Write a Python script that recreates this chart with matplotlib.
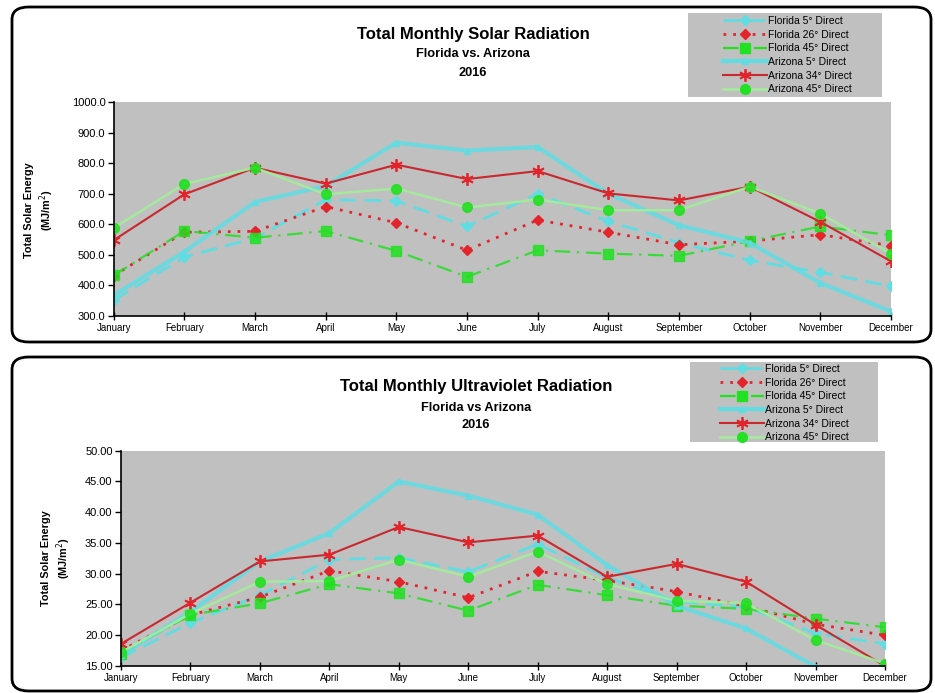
import numpy as np
import matplotlib
matplotlib.use("Agg")
import matplotlib.pyplot as plt
from matplotlib.patches import FancyBboxPatch, Rectangle

plt.rcParams["font.family"] = ["Liberation Sans", "DejaVu Sans"]

months = ["January", "February", "March", "April", "May", "June", "July",
          "August", "September", "October", "November", "December"]
labels = ["Florida 5° Direct", "Florida 26° Direct", "Florida 45° Direct",
          "Arizona 5° Direct", "Arizona 34° Direct", "Arizona 45° Direct"]

# total solar radiation (MJ/m2)
sol_fl5 = [352, 493, 555, 680, 677, 593, 700, 610, 540, 482, 443, 397]
sol_fl26 = [432, 574, 577, 658, 605, 515, 614, 574, 533, 545, 566, 530]
sol_fl45 = [433, 578, 556, 578, 513, 428, 515, 504, 497, 545, 593, 564]
sol_az5 = [368, 510, 673, 725, 867, 841, 853, 700, 597, 540, 408, 315]
sol_az34 = [548, 698, 785, 733, 795, 748, 774, 701, 678, 723, 608, 479]
sol_az45 = [588, 732, 785, 698, 717, 655, 681, 646, 646, 723, 635, 504]

# total ultraviolet radiation (MJ/m2)
uv_fl5 = [16.4, 22.0, 26.5, 32.3, 32.6, 30.3, 34.8, 29.4, 25.5, 24.6, 20.3, 18.6]
uv_fl26 = [17.5, 23.3, 26.2, 30.5, 28.7, 26.1, 30.4, 28.9, 27.1, 24.7, 21.8, 20.0]
uv_fl45 = [17.0, 23.3, 25.2, 28.3, 26.8, 24.0, 28.2, 26.5, 24.8, 24.3, 22.7, 21.3]
uv_az5 = [16.8, 23.8, 32.0, 36.6, 45.0, 42.7, 39.6, 31.4, 24.8, 21.1, 14.9, 13.0]
uv_az34 = [18.6, 25.3, 32.0, 33.1, 37.6, 35.1, 36.2, 29.5, 31.6, 28.7, 21.7, 15.0]
uv_az45 = [17.2, 23.5, 28.7, 28.8, 32.3, 29.5, 33.6, 28.3, 25.6, 25.2, 19.2, 15.4]

cyan = "#5fdde3"
red = "#e3242b"
dred = "#c8282e"
green = "#22e022"
lgreen = "#a2ee9a"
gray = "#c0c0c0"

styles = [
    dict(color=cyan, ls=(0, (6, 3)), lw=2.0, marker="D", ms=5, mfc=cyan, mec=cyan),
    dict(color=red, ls=(0, (1, 2.5)), lw=2.0, marker="D", ms=5, mfc=red, mec=red),
    dict(color=green, ls=(0, (7, 3, 1, 3)), lw=1.6, marker="s", ms=7, mfc=green, mec=green, alpha=0.85),
    dict(color=cyan, ls="-", lw=3.0, marker="^", ms=4, mfc=cyan, mec=cyan, alpha=0.85),
    dict(color=dred, ls="-", lw=1.5, marker=(6, 2, 0), ms=9, mfc=red, mec=red, mew=1.3),
    dict(color=lgreen, ls="-", lw=1.8, marker="o", ms=7, mfc=green, mec=green, alpha=0.9),
]

fig = plt.figure(figsize=(9.35, 6.93), dpi=100)
W, H = 935.0, 693.0

# rounded panel borders
for (x0, y0, x1, y1) in [(12, 7, 931, 342), (12, 357, 931, 691)]:
    box = FancyBboxPatch((x0 / W, 1 - y1 / H), (x1 - x0) / W, (y1 - y0) / H,
                         boxstyle="round,pad=0,rounding_size=0.018",
                         transform=fig.transFigure, fill=False, ec="black", lw=2.0)
    fig.add_artist(box)


def panel(rect, series, ylim, yticks, fmt, titles, title_y, legbox, leg_xy, ylab_xy):
    ax = fig.add_axes(rect)
    ax.set_facecolor(gray)
    x = np.arange(len(months))
    for vals, st, lab in zip(series, styles, labels):
        ax.plot(x, vals, label=lab, clip_on=True, **st)
    ax.set_xlim(0, 11)
    ax.set_ylim(*ylim)
    ax.set_xticks(x)
    ax.set_xticklabels(months, fontsize=7)
    ax.set_yticks(yticks)
    ax.set_yticklabels([fmt.format(v) for v in yticks], fontsize=8)
    ax.tick_params(axis="x", direction="inout", length=6, width=1, pad=2)
    ax.tick_params(axis="y", direction="out", length=4, width=1, pad=2)
    for s in ["top", "right"]:
        ax.spines[s].set_visible(False)
    for s in ["left", "bottom"]:
        ax.spines[s].set_linewidth(1.2)
    # titles
    cx = titles[0][0] / W
    fig.text(cx, 1 - title_y[0] / H, titles[0][1], ha="center", va="center",
             fontsize=12, fontweight="bold")
    fig.text(cx, 1 - title_y[1] / H, titles[1], ha="center", va="center",
             fontsize=9.2, fontweight="bold")
    fig.text(cx, 1 - title_y[2] / H, "2016", ha="center", va="center",
             fontsize=9.2, fontweight="bold")
    fig.text(ylab_xy[0] / W, 1 - ylab_xy[1] / H, "Total Solar Energy\n(MJ/m$^2$)",
             rotation=90, ha="center", va="center", fontsize=7.8, fontweight="bold",
             multialignment="center")
    # legend background
    bx0, by0, bx1, by1 = legbox
    fig.add_artist(Rectangle((bx0 / W, 1 - by1 / H), (bx1 - bx0) / W, (by1 - by0) / H,
                             transform=fig.transFigure, fc=gray, ec="none"))
    h, l = ax.get_legend_handles_labels()
    leg = fig.legend(h, l, loc="upper left",
                     bbox_to_anchor=(leg_xy[0] / W, 1 - leg_xy[1] / H),
                     fontsize=7.5, frameon=False, labelspacing=0.35,
                     handlelength=4.2, handletextpad=0.1, borderpad=0,
                     borderaxespad=0)
    for ln in leg.get_lines():
        ln.set_alpha(1)
    return ax


panel([113.7 / W, 1 - 316 / H, (891 - 113.7) / W, (316 - 102) / H],
      [sol_fl5, sol_fl26, sol_fl45, sol_az5, sol_az34, sol_az45],
      (300, 1000), np.arange(300, 1001, 100), "{:.1f}",
      [(473, "Total Monthly Solar Radiation"), "Florida vs. Arizona"],
      (34, 54, 73), (688, 13, 882, 97), (723, 16), (40, 210))

panel([121 / W, 1 - 666 / H, (885 - 121) / W, (666 - 450.7) / H],
      [uv_fl5, uv_fl26, uv_fl45, uv_az5, uv_az34, uv_az45],
      (15, 50), np.arange(15, 50.1, 5), "{:.2f}",
      [(476, "Total Monthly Ultraviolet Radiation"), "Florida vs Arizona"],
      (387, 408, 425), (690, 362, 878, 442), (720, 364), (57, 558))

fig.savefig("out.png", dpi=100)
